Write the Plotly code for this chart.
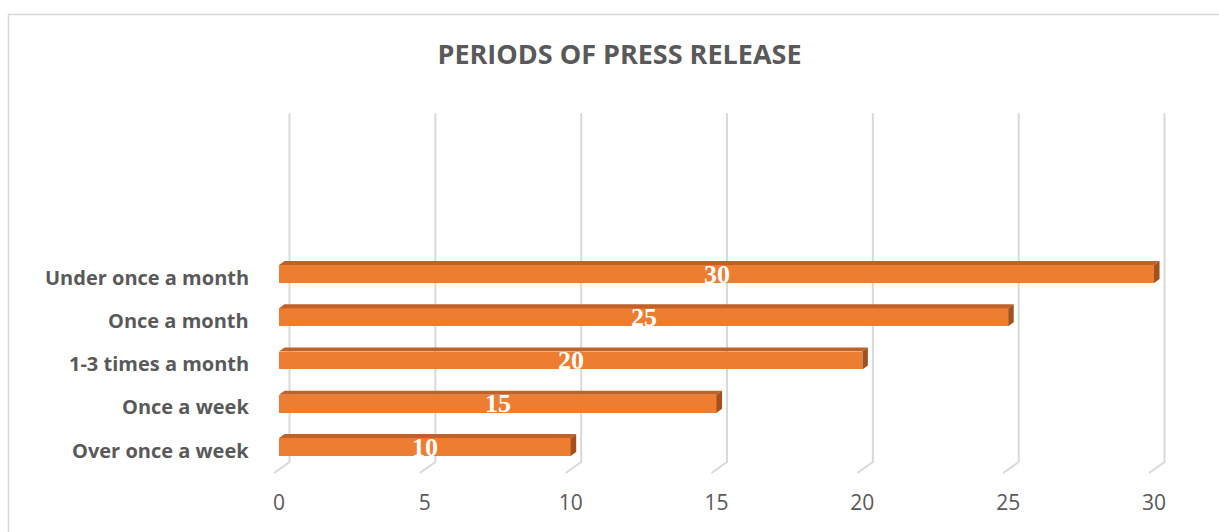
import plotly.graph_objects as go

# ---- data ----
categories = ["Over once a week", "Once a week", "1-3 times a month", "Once a month", "Under once a month"]
values = [10, 15, 20, 25, 30]
x_ticks = [0, 5, 10, 15, 20, 25, 30]
title_text = "PERIODS OF PRESS RELEASE"

# ---- style ----
FRONT = "#ED7D31"
TOP = "#BF6128"
SIDE = "#A3501F"
GRID = "#D9D9D9"
TXT = "#595959"

W, H = 1219, 532
ML, MR, MT, MB = 262, 36, 109, 53
pw, ph = W - ML - MR, H - MT - MB
xr = [-0.583, 30.994]
yr = [-0.74, 7.815]

half = 0.208   # half bar thickness (category units)
ddx = 0.19     # 3D depth offset in x units
ddy = 0.092    # 3D depth offset in y units

fig = go.Figure()
fig.add_trace(go.Bar(
    x=values, y=list(range(len(categories))), orientation="h",
    width=2 * half, marker=dict(color=FRONT, line=dict(width=0)),
    hoverinfo="skip", showlegend=False,
))

shapes = []
# gridlines with 3D floor kink
for t in x_ticks:
    path = (f"M {t+0.36},{yr[1]-0.1} L {t+0.36},{-0.347} L {t-0.17},{-0.6}")
    shapes.append(dict(type="path", path=path, xref="x", yref="y", layer="below",
                       line=dict(color=GRID, width=2)))

for i, v in enumerate(values):
    yt = i + half
    yb = i - half
    top = f"M 0,{yt} L {ddx},{yt+ddy} L {v+ddx},{yt+ddy} L {v},{yt} Z"
    side = f"M {v},{yb} L {v},{yt} L {v+ddx},{yt+ddy} L {v+ddx},{yb+ddy} Z"
    shapes.append(dict(type="path", path=top, xref="x", yref="y", layer="above",
                       fillcolor=TOP, line=dict(width=0)))
    shapes.append(dict(type="path", path=side, xref="x", yref="y", layer="above",
                       fillcolor=SIDE, line=dict(width=0)))

# outer border
def px2paper_x(p):
    return (p - ML) / pw

def px2paper_y(p):
    return (MT + ph - p) / ph

shapes.append(dict(type="rect", xref="paper", yref="paper",
                   x0=px2paper_x(8.5), x1=px2paper_x(1230),
                   y0=px2paper_y(545), y1=px2paper_y(14.5),
                   line=dict(color=GRID, width=1.5), fillcolor="rgba(0,0,0,0)", layer="below"))

annotations = []
for i, v in enumerate(values):
    annotations.append(dict(x=v / 2, y=i, xref="x", yref="y", text=str(v), showarrow=False,
                            font=dict(family="Liberation Serif", size=26, color="white", weight="bold"),
                            xanchor="center", yanchor="middle"))
# category labels
for i, c in enumerate(categories):
    annotations.append(dict(x=px2paper_x(251), y=i, xref="paper", yref="y", text=c, showarrow=False,
                            font=dict(family="Open Sans", size=20, color=TXT, weight="bold"),
                            xanchor="right", yanchor="middle", yshift=-3))

fig.update_layout(
    width=W, height=H,
    margin=dict(l=ML, r=MR, t=MT, b=MB),
    paper_bgcolor="white", plot_bgcolor="rgba(0,0,0,0)",
    shapes=shapes, annotations=annotations,
    title=dict(text=f"<b>{title_text}</b>", x=619.5 / W, xref="container", xanchor="center",
               y=1 - 55 / H, yref="container", yanchor="middle",
               font=dict(family="Open Sans", size=27, color=TXT)),
    xaxis=dict(range=xr, tickvals=x_ticks, showgrid=False, zeroline=False, showline=False,
               ticks="", tickfont=dict(family="Open Sans", size=21, color=TXT),
               ticklabelstandoff=9, fixedrange=True),
    yaxis=dict(range=yr, tickvals=list(range(len(categories))), showticklabels=False,
               showgrid=False, zeroline=False, showline=False, ticks="", fixedrange=True),
    bargap=0,
)

fig.write_html("out.html")
